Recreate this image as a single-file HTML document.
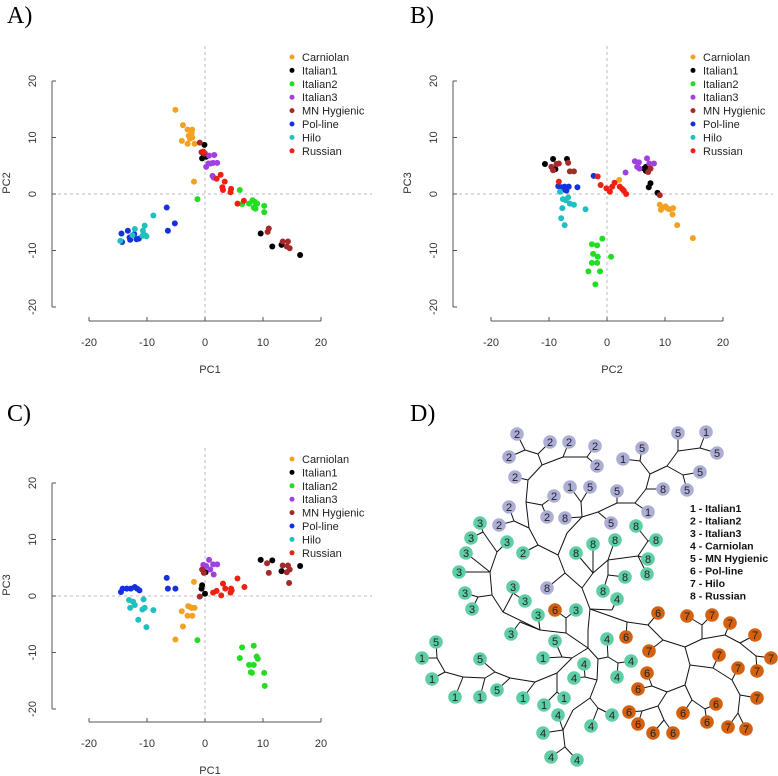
<!DOCTYPE html>
<html><head><meta charset="utf-8"><style>
html,body{margin:0;padding:0;background:#fff}
svg{display:block;font-family:"Liberation Sans",sans-serif}
</style></head><body>
<svg id="fig" width="778" height="776" viewBox="0 0 778 776"></svg>
<script>
const groups = ["Carniolan","Italian1","Italian2","Italian3","MN Hygienic","Pol-line","Hilo","Russian"];
const colors = ["#f4a020","#000000","#22dd22","#a040e0","#a52a2a","#1530e0","#20c0c0","#f02010"];
const ticks = [-20,-10,0,10,20];

// Panel A: PC1 vs PC2
const A_carniolan=[[-5.1,14.9],[-3.8,12.2],[-3,11.4],[-2.2,11.4],[-2.3,10.8],[-2.8,10.3],[-2.2,10],[-2.6,9.8],[-4,9.4],[-3,8.9],[-1.8,8.9],[-1.9,2.2]];
const A_italian1=[[-0.1,8.7],[-0.5,6.3],[-0.2,6.7],[0.2,6.6],[9.6,-7],[11.6,-9.3],[13.2,-9],[16.4,-10.8]];
const A_italian2=[[-1.3,-0.9],[6,0.7],[6.4,-1.8],[7.6,-1.7],[8.2,-1.1],[8.6,-1.4],[9,-1.7],[8.4,-2.4],[8.7,-2.6],[10.2,-2.1],[10.2,-3.2]];
const A_italian3=[[0,7.2],[0.7,6.8],[1.6,6.9],[0.2,4.8],[0.6,5.4],[1.0,5.4],[1.4,5.5],[2.1,5.5],[1.3,3.2],[1.5,2.9]];
const A_mn=[[-0.9,9.1],[-0.6,7.4],[-0.2,7.2],[11,-6.1],[10.8,-6.7],[13.4,-8.4],[14.3,-8.4],[14.1,-9.3],[14.6,-9.6]];
const A_pol=[[-6.6,-2.4],[-5.2,-5.2],[-6.4,-6.5],[-14.4,-7],[-14.3,-8.5],[-13.3,-6.5],[-13,-7.7],[-12.2,-7.1],[-11.8,-8],[-11.4,-7.9],[-12.9,-8.1]];
const A_hilo=[[-8.9,-3.8],[-10.4,-5.6],[-10.7,-6.5],[-10.3,-7.3],[-12.1,-6.2],[-12.5,-7.3],[-14.6,-8.3],[-10.1,-7.5],[-10.8,-7.4]];
const A_russian=[[2.7,3.4],[2,2.7],[3.4,2.2],[3,1.2],[3.1,0.7],[4.5,0.9],[4.4,0.3],[5.6,-1.7],[6.7,-1.2],[-0.3,7.5]];

// Panel B: PC2 vs PC3
const B_carniolan=[[2.1,2.5],[9.1,-1.9],[9.5,-2.5],[10.1,-2.2],[10.5,-2.6],[11.4,-2.5],[11.3,-3.6],[12.1,-5.5],[14.8,-7.8],[9.3,-2.8],[10.8,-2.7]];
const B_italian1=[[-10.7,5.3],[-9.3,6.2],[-8.9,4.4],[-6.9,6.2],[6.4,4.5],[6.7,4.1],[6.7,4.8],[7.5,1.9],[7.2,1.2],[8.7,0.2]];
const B_italian2=[[-0.8,-7.9],[-2.6,-8.9],[-1.7,-9.1],[-2.4,-10.6],[-1.6,-11.1],[0.7,-11.1],[-2.6,-12.2],[-1.7,-12.2],[-3.2,-13.7],[-1.2,-13.7],[-2,-16]];
const B_italian3=[[4.8,5.8],[5.5,5.6],[6.9,6.3],[5.2,4.8],[5.6,4.5],[8.1,5.4],[3.2,3.8],[7.3,5.4]];
const B_mn=[[-9.6,4.8],[-8.7,5.3],[-8.3,5.4],[-9.3,4.2],[-6.7,5.5],[-6.4,4],[-5.7,4],[7.1,3.9],[7.5,4.5],[9.1,-0.2]];
const B_pol=[[-8.4,1.4],[-7.8,1.2],[-7.3,1.3],[-7,0.6],[-6.6,1.3],[-5.1,1.2],[-2.3,3.2],[-7.6,0.8]];
const B_hilo=[[-8.1,0.4],[-7.6,-0.9],[-6.7,-0.6],[-6.4,-1.7],[-5.7,-1.9],[-7.7,-2.5],[-3.7,-2.7],[-7.9,-4.3],[-7.3,-5.5],[-7.1,-1.1]];
const B_russian=[[-8.3,2.2],[-1.6,3.1],[-1.1,1.6],[-0.1,1],[0.5,0.4],[0.9,1.3],[1.3,2],[2.2,1.3],[2.6,0.9],[2.9,0.6],[3.3,0]];

// Panel C: PC1 vs PC3
const C_carniolan=[[-1.9,2.5],[-2.9,-1.8],[-2.3,-2.1],[-1.8,-2.1],[-4,-2.7],[-3,-3.5],[-2.2,-3.5],[-3.8,-5.4],[-5.1,-7.7],[-2.5,-2]];
const C_italian1=[[9.6,6.4],[11.6,6.3],[13.2,4.4],[16.4,5.3],[-0.5,1.9],[-0.6,1.3],[0,0.4],[0.1,4.2]];
const C_italian2=[[-1.3,-7.8],[6.4,-9.1],[8.4,-8.8],[6,-11],[8.9,-10.7],[9.1,-11.1],[7.6,-12.2],[8.4,-12.2],[8.1,-13.6],[10.2,-13.6],[10.3,-15.9],[7.9,-13.5]];
const C_italian3=[[0.7,6.4],[1.4,5.6],[2.1,5.6],[0.2,5.3],[0.9,4.7],[1.5,3.8],[-0.3,5.5]];
const C_mn=[[-0.5,4.7],[-0.2,4.1],[-0.9,-0.1],[10.7,5.8],[11,4.1],[13.4,5.4],[14.3,5.4],[14.1,4.2],[14.6,4.7],[14.5,2.3]];
const C_pol=[[-14.5,0.7],[-14.2,1.3],[-13.5,1.3],[-12.8,1.3],[-12.1,1.6],[-11.7,1.3],[-11.3,1],[-6.6,3.2],[-6.4,1.3],[-5.1,1.3]];
const C_hilo=[[-13.1,-0.7],[-12.4,-1],[-12.1,-1.6],[-12.9,-2.1],[-10.6,-0.6],[-10.8,-2.4],[-10.4,-2.1],[-8.9,-2.5],[-11.5,-4.2],[-10.1,-5.5]];
const C_russian=[[1.4,0.6],[2,0.9],[3.1,2.2],[3.5,1.3],[2.8,0.1],[4.5,1.3],[4.4,0.6],[5.6,3.1],[6.8,1.6],[4.6,1]];

const NS="http://www.w3.org/2000/svg";
const svg=document.getElementById('fig');
function mk(tag,attrs,parent){const e=document.createElementNS(NS,tag);for(const k in attrs)e.setAttribute(k,attrs[k]);(parent||svg).appendChild(e);return e;}

function panel(p,series){
  const g=mk('g',{});
  
  
  const sx=v=>p.x0+(v+20)*(p.x1-p.x0)/40;
  const sy=v=>p.y0+(20-v)*(p.y1-p.y0)/40;
  const lab=mk('text',{x:p.lx,y:p.ly,'font-family':'Liberation Serif,serif','font-size':24,fill:'#000'},g);
  lab.textContent=p.id+')';
  
  
  // dashed zero lines
  const dv=mk('line',{x1:sx(0),x2:sx(0),y1:p.dvTop,y2:p.xAxisY,stroke:'#bbb','stroke-dasharray':'3,3','stroke-width':1},g);
  
  
  const dh=mk('line',{x1:p.yAxisX,x2:p.yAxisX+320,y1:sy(0),y2:sy(0),stroke:'#bbb','stroke-dasharray':'3,3','stroke-width':1},g);
  
  
  // axes
  const xa=mk('g',{},g);
  
  
  mk('line',{x1:sx(-20),x2:sx(20),y1:p.xAxisY,y2:p.xAxisY,stroke:'#555','stroke-width':1},xa);
  ticks.forEach(t=>{
    mk('line',{x1:sx(t),x2:sx(t),y1:p.xAxisY,y2:p.xAxisY-4,stroke:'#555'},xa);
    const tx=mk('text',{x:sx(t),y:p.xAxisY+25,'text-anchor':'middle','font-size':11,fill:'#333'},xa);
    tx.textContent=t;
    
    
  });
  const ya=mk('g',{},g);
  
  
  mk('line',{x1:p.yAxisX,x2:p.yAxisX,y1:sy(20),y2:sy(-20),stroke:'#555'},ya);
  ticks.forEach(t=>{
    mk('line',{x1:p.yAxisX,x2:p.yAxisX+4,y1:sy(t),y2:sy(t),stroke:'#555'},ya);
    const tx=mk('text',{x:0,y:0,'text-anchor':'middle','font-size':11,fill:'#333',transform:`translate(${p.yAxisX-16},${sy(t)}) rotate(-90)`},ya);
    tx.textContent=t;
    
    
  });
  const xt=mk('text',{x:(sx(-20)+sx(20))/2+5,y:p.xAxisY+52,'text-anchor':'middle','font-size':11,fill:'#333'},g);
  xt.textContent=p.xl;
  
  
  const yt=mk('text',{x:0,y:0,'text-anchor':'middle','font-size':11,fill:'#333',transform:`translate(${p.yAxisX-42},${sy(0)-11}) rotate(-90)`},g);
  yt.textContent=p.yl;
  
  
  // points
  series.forEach((s,i)=>{
    s.forEach(pt=>{
      const c=mk('circle',{cx:sx(pt[0]),cy:sy(pt[1]),r:3,fill:colors[i]},g);
      
      
    });
  });
  // legend
  const lg=mk('g',{},g);
  
  
  groups.forEach((n,i)=>{
    const y=p.legY+i*13.4;
    mk('circle',{cx:p.legX,cy:y,r:2.5,fill:colors[i]},lg);
    const t=mk('text',{x:p.legX+10,y:y+4,'font-size':11,fill:'#222'},lg);
    t.textContent=n;
    
    
  });
}
panel({id:'A',lx:7,ly:23,x0:89,x1:321,y0:81,y1:307,xAxisY:321,yAxisX:52,dvTop:46,legX:292,legY:57,xl:'PC1',yl:'PC2'},
  [A_carniolan,A_italian1,A_italian2,A_italian3,A_mn,A_pol,A_hilo,A_russian]);
panel({id:'B',lx:410,ly:23,x0:491,x1:723,y0:81,y1:307,xAxisY:321,yAxisX:453,dvTop:46,legX:693,legY:57,xl:'PC2',yl:'PC3'},
  [B_carniolan,B_italian1,B_italian2,B_italian3,B_mn,B_pol,B_hilo,B_russian]);
panel({id:'C',lx:7,ly:421,x0:89,x1:321,y0:483,y1:709,xAxisY:722,yAxisX:52,dvTop:448,legX:292,legY:459,xl:'PC1',yl:'PC3'},
  [C_carniolan,C_italian1,C_italian2,C_italian3,C_mn,C_pol,C_hilo,C_russian]);

// Panel D: dendrogram
const N={a1:[525,450],a2:[538,454],a3:[542,465],a4:[563,457],a5:[587,457],a6:[528,480],a7:[526,502],a8:[542,505],a9:[529,528],a10:[514,521],a11:[538,545],a12:[558,555],a13m:[567,533],a13:[582,517],a15:[581,502],a16:[598,512],a17:[617,503],a18:[635,503],a19:[646,489],a20:[650,474],a21:[640,461],a22:[667,466],a23:[678,451],a24:[700,448],a25:[683,475],
b1:[565,573],b2:[582,588],b4:[593,573],b5:[608,560],b7:[608,575],b6:[638,556],b8:[648,541],b3:[590,609],b3o:[612,610],
o1:[627,622],o2:[648,625],o3:[663,640],o4:[685,647],o5:[702,639],o5t:[702,625],o6:[725,635],o7:[740,643],o8:[756,656],o9:[690,665],o10:[713,668],o11:[732,680],o12:[740,695],o13:[738,713],o14:[685,685],o15:[667,692],o16:[652,686],o17:[658,706],o18:[642,711],o19:[664,720],o20:[692,700],o21:[705,709],
b9:[588,630],b14:[588,648],c1:[566,633],c1t:[566,618],c2:[540,630],c3:[503,612],c4:[513,593],c5:[492,595],c6:[478,597],c7:[490,572],c8:[497,552],c9:[483,532],c10:[520,622],
b15:[598,659],d1:[608,657],d2:[618,663],d3:[597,680],d4:[585,677],d5:[590,698],d6:[598,708],d7:[573,710],d8:[563,730],d9:[565,747],
b16:[572,658],e1:[562,657],e2:[557,673],e3:[557,692],e4:[535,682],e5:[510,678],e6:[495,672],e7:[485,678],e8:[463,677],e9:[445,672],e10:[437,658]};
const E=[['a1','a2'],['a2','a3'],['a3','a4'],['a4','a5'],['a3','a6'],['a6','a7'],['a7','a8'],['a7','a9'],['a9','a10'],['a9','a11'],['a11','a12'],['a12','a13m'],['a13m','a13'],['a13','a15'],['a13','a16'],['a16','a17'],['a17','a18'],['a18','a19'],['a19','a20'],['a20','a21'],['a20','a22'],['a22','a23'],['a23','a24'],['a22','a25'],
['a12','b1'],['b1','b2'],['b2','b4'],['b4','b5'],['b5','b7'],['b5','b6'],['b6','b8'],['b2','b3'],['b3','b3o'],
['b3','o1'],['o1','o2'],['o2','o3'],['o3','o4'],['o4','o5'],['o5','o5t'],['o5','o6'],['o6','o7'],['o7','o8'],['o4','o9'],['o9','o10'],['o10','o11'],['o11','o12'],['o12','o13'],['o9','o14'],['o14','o15'],['o15','o16'],['o15','o17'],['o17','o18'],['o17','o19'],['o14','o20'],['o20','o21'],
['b3','b9'],['b9','b14'],['b14','c1'],['c1','c1t'],['c1','c2'],['c2','c3'],['c3','c4'],['c3','c5'],['c5','c6'],['c5','c7'],['c7','c8'],['c8','c9'],['c2','c10'],
['b14','b15'],['b15','d1'],['d1','d2'],['b15','d3'],['d3','d4'],['d3','d5'],['d5','d6'],['d5','d7'],['d7','d8'],['d8','d9'],
['b14','b16'],['b16','e1'],['b16','e2'],['e2','e3'],['e2','e4'],['e4','e5'],['e5','e6'],['e6','e7'],['e7','e8'],['e8','e9'],['e9','e10']];
// leaves: x,y,label,colour(p=purple,g=green,o=orange),parent
const L=[[517,434,'2','p','a1'],[509,457,'2','p','a1'],[550,442,'2','p','a2'],[569,442,'2','p','a4'],[595,446,'2','p','a5'],[597,466,'2','p','a5'],[515,477,'2','p','a6'],[554,496,'2','p','a8'],[547,517,'2','p','a8'],[509,507,'2','p','a10'],[499,525,'2','p','a10'],[570,487,'1','p','a15'],[590,487,'5','p','a15'],[565,518,'8','p','a13'],[611,523,'5','p','a16'],[617,491,'5','p','a17'],[648,512,'1','p','a18'],[663,489,'8','p','a19'],[623,459,'1','p','a21'],[642,448,'5','p','a21'],[678,433,'5','p','a23'],[706,432,'1','p','a24'],[717,453,'5','p','a24'],[700,472,'5','p','a25'],[687,490,'5','p','a25'],[547,588,'8','p','b1'],
[523,553,'2','g','a11'],[576,553,'8','g','b4'],[593,544,'8','g','b4'],[615,540,'8','g','b5'],[603,591,'8','g','b7'],[625,577,'8','g','b7'],[648,559,'8','g','b6'],[647,574,'8','g','b6'],[636,526,'8','g','b8'],[656,540,'8','g','b8'],[617,599,'4','g','b3o'],
[626,637,'6','o','o1'],[658,613,'6','o','o2'],[649,651,'7','o','o3'],[687,616,'7','o','o5t'],[712,615,'7','o','o5t'],[730,623,'7','o','o6'],[755,635,'7','o','o7'],[771,658,'7','o','o8'],[757,671,'7','o','o8'],[719,655,'7','o','o10'],[738,668,'7','o','o11'],[757,698,'7','o','o12'],[728,727,'7','o','o13'],[746,729,'7','o','o13'],[647,673,'6','o','o16'],[638,689,'6','o','o16'],[629,712,'6','o','o18'],[638,724,'6','o','o18'],[653,733,'6','o','o19'],[673,733,'6','o','o19'],[683,713,'6','o','o20'],[716,704,'6','o','o21'],[707,722,'6','o','o21'],
[555,610,'6','o','c1t'],[576,610,'3','g','c1t'],[538,615,'3','g','c2'],[513,587,'3','g','c4'],[525,601,'3','g','c4'],[465,593,'3','g','c6'],[472,609,'3','g','c6'],[459,572,'3','g','c7'],[466,553,'3','g','c7'],[507,542,'3','g','c8'],[480,523,'3','g','c9'],[471,538,'3','g','c9'],[511,634,'3','g','c10'],
[607,639,'4','g','d1'],[631,661,'4','g','d2'],[617,677,'4','g','d2'],[584,664,'4','g','d4'],[574,678,'4','g','d4'],[612,715,'4','g','d6'],[591,726,'4','g','d6'],[558,715,'4','g','d8'],[543,733,'4','g','d8'],[551,757,'4','g','d9'],[577,760,'4','g','d9'],
[543,658,'1','g','e1'],[555,641,'5','g','e1'],[544,705,'1','g','e3'],[564,698,'1','g','e3'],[523,698,'1','g','e4'],[497,690,'5','g','e5'],[480,659,'5','g','e6'],[480,697,'1','g','e7'],[455,697,'1','g','e8'],[432,679,'1','g','e9'],[422,658,'1','g','e10'],[436,642,'5','g','e10']];
const LC={p:'#adaed6',g:'#5fcea5',o:'#d4610f'};
const gd=mk('g',{});


const dl=mk('text',{x:410,y:421,'font-family':'Liberation Serif,serif','font-size':24,fill:'#000'},gd);
dl.textContent='D)';


const br=mk('g',{stroke:'#111','stroke-width':1,fill:'none'},gd);


E.forEach(e=>{const a=N[e[0]],b=N[e[1]];mk('line',{x1:a[0],y1:a[1],x2:b[0],y2:b[1]},br);});
L.forEach(l=>{const p=N[l[4]];mk('line',{x1:l[0],y1:l[1],x2:p[0],y2:p[1]},br);});
L.forEach(l=>{
  const lg=mk('g',{},gd);
  
  
  mk('circle',{cx:l[0],cy:l[1],r:6.8,fill:LC[l[3]]},lg);
  const t=mk('text',{x:l[0],y:l[1]+4,'text-anchor':'middle','font-size':11,fill:'#222'},lg);
  t.textContent=l[2];
});
const dLeg=["1 - Italian1","2 - Italian2","3 - Italian3","4 - Carniolan","5 - MN Hygienic","6 - Pol-line","7 - Hilo","8 - Russian"];
const dlg=mk('g',{},gd);


dLeg.forEach((s,i)=>{
  const t=mk('text',{x:690,y:512+i*12.5,'font-size':10.5,'font-weight':'bold',fill:'#111'},dlg);
  t.textContent=s;
  
  
});
</script>
</body></html>
